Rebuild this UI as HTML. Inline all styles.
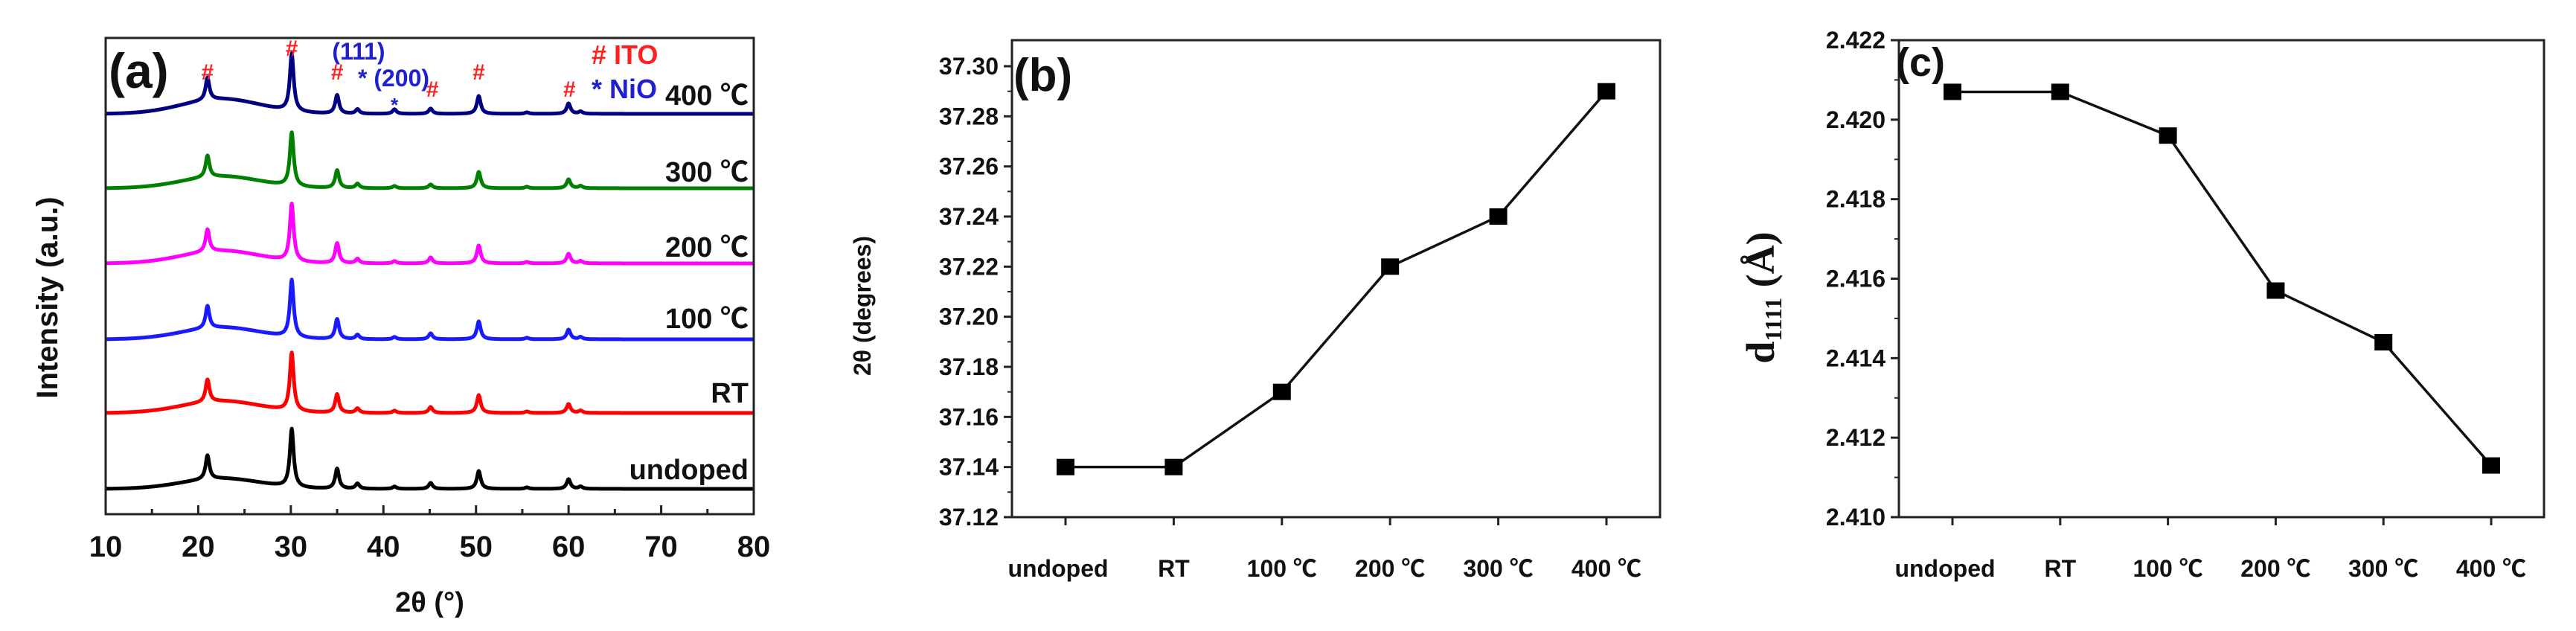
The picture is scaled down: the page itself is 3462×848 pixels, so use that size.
<!DOCTYPE html>
<html><head><meta charset="utf-8">
<style>
html,body{margin:0;padding:0;background:#fff;}
svg{display:block;font-family:"Liberation Sans","Noto Sans CJK SC",sans-serif;}
</style></head>
<body>
<svg id="fig" width="3462" height="848" viewBox="0 0 3462 848" xmlns="http://www.w3.org/2000/svg"></svg>
<script>
// ---------- Panel (a) data ----------
const xrdSeries = ["undoped","RT","100 ℃","200 ℃","300 ℃","400 ℃"];
const xrdColors = ["#000000","#ff0000","#1a1aff","#ff00ff","#008000","#000080"];
const peakPos = [21.0, 30.1, 35.0, 37.2, 41.2, 45.1, 50.3, 55.5, 60.0, 61.3];
const peakH_undoped = [32, 78, 27, 7, 3, 8, 24, 2, 13, 3];
const peakH_RT      = [30, 78, 25, 6, 3, 8, 24, 2, 12, 3];
const peakH_100     = [30, 77, 27, 6, 3, 8, 24, 2, 13, 3];
const peakH_200     = [30, 77, 27, 6, 3, 8, 24, 2, 13, 3];
const peakH_300     = [29, 72, 24, 6, 3, 5, 22, 2, 12, 3];
const peakH_400     = [30, 77, 25, 6, 6, 7, 24, 2, 14, 3];
const humpH = [14, 16, 16, 17, 16, 20];
const xrdTicks = [10,20,30,40,50,60,70,80];
// ---------- Panel (b) data ----------
const cats = ["undoped","RT","100 ℃","200 ℃","300 ℃","400 ℃"];
const twoTheta = [37.14, 37.14, 37.17, 37.22, 37.24, 37.29];
const bTicks = ["37.12","37.14","37.16","37.18","37.20","37.22","37.24","37.26","37.28","37.30"];
// ---------- Panel (c) data ----------
const dSpacing = [2.4207, 2.4207, 2.4196, 2.4157, 2.4144, 2.4113];
const cTicks = ["2.410","2.412","2.414","2.416","2.418","2.420","2.422"];

const NS="http://www.w3.org/2000/svg";
const svg=document.getElementById('fig');
function mk(tag,attrs,parent){const e=document.createElementNS(NS,tag);for(const k in attrs)e.setAttribute(k,attrs[k]);(parent||svg).appendChild(e);return e;}
function txt(s,attrs,parent){const e=mk('text',attrs,parent);e.textContent=s;return e;}

// ===== Panel A =====
const gA=mk('g',{});


const aL=142,aR=1013,aT=51,aB=691;
const ax=v=>aL+(v-10)/70*(aR-aL);
const baselines=[657,555,456,354,253,153];
const allH=[peakH_undoped,peakH_RT,peakH_100,peakH_200,peakH_300,peakH_400];
xrdSeries.forEach((nm,i)=>{
  let d="";
  for(let t=10;t<=80.001;t+=0.05){
    let y=humpH[i]*Math.exp(-Math.pow((t-22.5)/6,2));
    peakPos.forEach((p,k)=>{y+=allH[i][k]/(1+Math.pow((t-p)/0.25,2));});
    d+=(d?"L":"M")+ax(t).toFixed(1)+","+(baselines[i]-y).toFixed(1);
  }
  const p=mk('path',{d:d,fill:"none",stroke:xrdColors[i],"stroke-width":5,"stroke-linejoin":"round"},gA);
  
  
});
const labY=[630,527,427,331,230,127];
xrdSeries.forEach((nm,i)=>{
  const t=txt(nm,{x:1006,y:labY[i]+14,"text-anchor":"end","font-size":38,"font-weight":"bold",fill:"#111"},gA);
  
  
});
const fA=mk('rect',{x:aL,y:aT,width:aR-aL,height:aB-aT,fill:"none",stroke:"#222","stroke-width":3},gA);


for(let v=10;v<=80;v+=5){
  const l=mk('line',{x1:ax(v),x2:ax(v),y1:aB,y2:aB-(v%10===0?12:7),stroke:"#222","stroke-width":3},gA);
  
  
}
xrdTicks.forEach(v=>{
  const t=txt(String(v),{x:ax(v),y:748,"text-anchor":"middle","font-size":40,"font-weight":"bold",fill:"#111"},gA);
  
  
});
const xtA=txt("2θ (°)",{x:ax(45),y:822,"text-anchor":"middle","font-size":38,"font-weight":"bold",fill:"#111"},gA);


const ytA=txt("Intensity (a.u.)",{x:0,y:0,transform:"translate(77,400) rotate(-90)","text-anchor":"middle","font-size":40,"font-weight":"bold",fill:"#111"},gA);


const la=txt("(a)",{x:146,y:118,"font-size":66,"font-weight":"bold",fill:"#111"},gA);


const hashX=[21,30.1,35,45.3,50.3,60.1];
const hashY=[107,75,107,130,107,130];
hashX.forEach((v,i)=>{
  const t=txt("#",{x:ax(v),y:hashY[i],"text-anchor":"middle","font-size":30,"font-weight":"bold",fill:"#ff2020"},gA);
  
  
});
const t111=txt("(111)",{x:482,y:80,"text-anchor":"middle","font-size":32,"font-weight":"bold",fill:"#2020d0"},gA);


const t200=txt("* (200)",{x:481,y:116,"font-size":32,"font-weight":"bold",fill:"#2020d0"},gA);


const star=txt("*",{x:ax(41.2),y:150,"text-anchor":"middle","font-size":26,"font-weight":"bold",fill:"#2020d0"},gA);


const lgI=txt("# ITO",{x:795,y:86,"font-size":36,"font-weight":"bold",fill:"#ff2020"},gA);


const lgN=txt("* NiO",{x:795,y:132,"font-size":36,"font-weight":"bold",fill:"#2020d0"},gA);



// ===== generic line panel =====
function linePanel(opt){
  const g=mk('g',{});
  
  
  const {L,R,T,B,ymin,ymax,catX0,catDx}=opt;
  const py=v=>opt.yB-(v-ymin)/(ymax-ymin)*(opt.yB-opt.yT);
  const px=i=>catX0+i*catDx;
  const fr=mk('rect',{x:L,y:T,width:R-L,height:B-T,fill:"none",stroke:"#222","stroke-width":3},g);
  
  
  opt.ticks.forEach(s=>{
    const v=parseFloat(s);
    const l=mk('line',{x1:L-11,x2:L,y1:py(v),y2:py(v),stroke:"#222","stroke-width":3},g);
    
    
    const t=txt(s,{x:L-18,y:py(v)+11,"text-anchor":"end","font-size":32,"font-weight":"bold",fill:"#111"},g);
    
    
  });
  for(let k=0;k<opt.ticks.length-1;k++){
    const v=(parseFloat(opt.ticks[k])+parseFloat(opt.ticks[k+1]))/2;
    const l=mk('line',{x1:L-6,x2:L,y1:py(v),y2:py(v),stroke:"#222","stroke-width":2},g);
    
    
  }
  cats.forEach((c,i)=>{
    const l=mk('line',{x1:px(i),x2:px(i),y1:B,y2:B+11,stroke:"#222","stroke-width":3},g);
    
    
    const t=txt(c,{x:px(i)+(i===0?-10:0),y:775,"text-anchor":"middle","font-size":32,"font-weight":"bold",fill:"#111"},g);
    
    
  });
  const d=opt.vals.map((v,i)=>(i?"L":"M")+px(i)+","+py(v)).join("");
  const ln=mk('path',{d:d,fill:"none",stroke:"#111","stroke-width":3.5},g);
  
  
  opt.vals.forEach((v,i)=>{
    const r=mk('rect',{x:px(i)-12,y:py(v)-11,width:24,height:22,fill:"#000"},g);
    
    
  });
  return g;
}
const gB=linePanel({name:'panel-b-two-theta',L:1360,R:2231,T:54,B:695,yT:89,yB:695,ymin:37.12,ymax:37.30,catX0:1432,catDx:145.4,vals:twoTheta,ticks:bTicks});
const lb=txt("(b)",{x:1362,y:122,"font-size":62,"font-weight":"bold",fill:"#111"},gB);


const ytB=txt("2θ (degrees)",{x:0,y:0,transform:"translate(1170,411) rotate(-90)","text-anchor":"middle","font-size":32,"font-weight":"bold",fill:"#111"},gB);



const gC=linePanel({name:'panel-c-d-spacing',L:2552,R:3419,T:54,B:695,yT:54,yB:695,ymin:2.410,ymax:2.422,catX0:2624,catDx:144.8,vals:dSpacing,ticks:cTicks});
const lc=txt("(c)",{x:2548,y:102,"font-size":54,"font-weight":"bold",fill:"#111"},gC);


const ytC=mk('text',{x:0,y:0,transform:"translate(2384,400) rotate(-90)","text-anchor":"middle","font-size":54,"font-weight":"bold",fill:"#111","font-family":"'Liberation Serif',serif"},gC);


ytC.innerHTML='d<tspan font-size="32" dy="10">1111</tspan><tspan dy="-10"> (Å)</tspan>';
</script>
</body></html>
